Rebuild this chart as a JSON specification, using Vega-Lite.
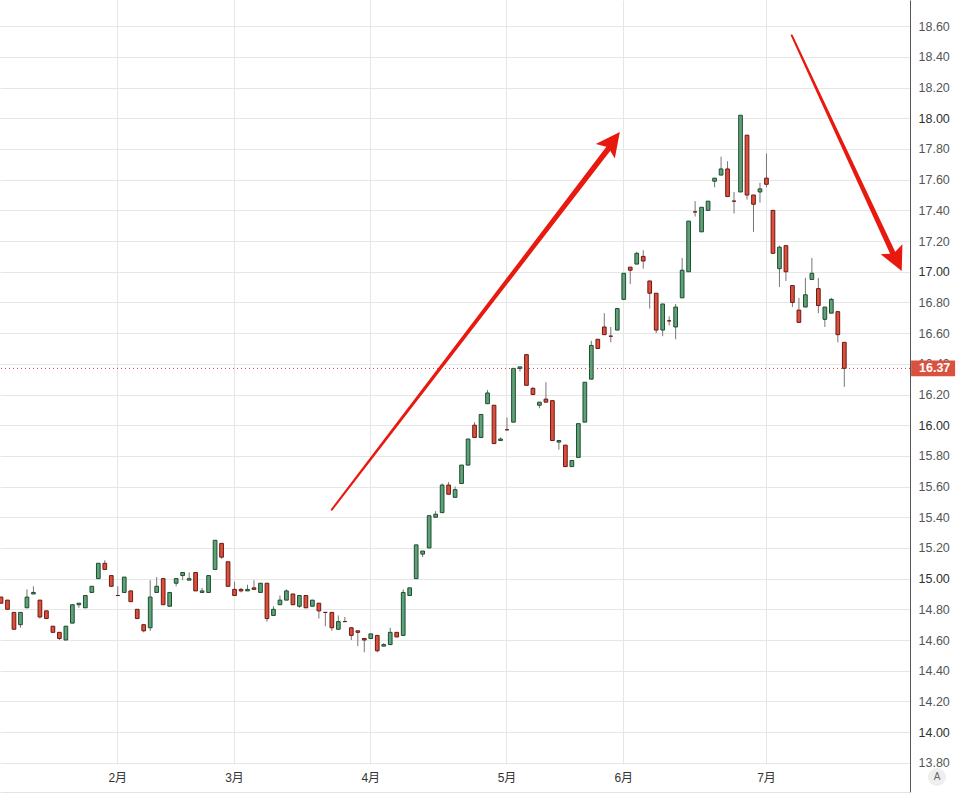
{
  "$schema": "https://vega.github.io/schema/vega-lite/v6.json",
  "width": 910,
  "height": 764,
  "autosize": {"type": "none"},
  "padding": {"left": 0, "top": 0, "right": 52, "bottom": 40},
  "background": "white",
  "config": {
    "view": {"stroke": null},
    "font": "Liberation Sans",
    "axis": {"labelFont": "Liberation Sans, Noto Sans CJK SC", "titleFont": "Liberation Sans"}
  },
  "datasets": {
    "candles": [
      {"date": "2026-01-06", "open": 14.88, "high": 14.88, "low": 14.84, "close": 14.84},
      {"date": "2026-01-07", "open": 14.86, "high": 14.86, "low": 14.80, "close": 14.80},
      {"date": "2026-01-08", "open": 14.78, "high": 14.78, "low": 14.67, "close": 14.67},
      {"date": "2026-01-09", "open": 14.70, "high": 14.78, "low": 14.68, "close": 14.78},
      {"date": "2026-01-12", "open": 14.81, "high": 14.93, "low": 14.81, "close": 14.88},
      {"date": "2026-01-13", "open": 14.90, "high": 14.95, "low": 14.90, "close": 14.91},
      {"date": "2026-01-14", "open": 14.86, "high": 14.86, "low": 14.74, "close": 14.75},
      {"date": "2026-01-15", "open": 14.79, "high": 14.79, "low": 14.74, "close": 14.74},
      {"date": "2026-01-16", "open": 14.69, "high": 14.69, "low": 14.65, "close": 14.65},
      {"date": "2026-01-20", "open": 14.65, "high": 14.65, "low": 14.60, "close": 14.61},
      {"date": "2026-01-21", "open": 14.60, "high": 14.69, "low": 14.60, "close": 14.69},
      {"date": "2026-01-22", "open": 14.71, "high": 14.83, "low": 14.71, "close": 14.83},
      {"date": "2026-01-23", "open": 14.83, "high": 14.84, "low": 14.81, "close": 14.84},
      {"date": "2026-01-26", "open": 14.81, "high": 14.89, "low": 14.81, "close": 14.89},
      {"date": "2026-01-27", "open": 14.91, "high": 14.95, "low": 14.91, "close": 14.95},
      {"date": "2026-01-28", "open": 15.00, "high": 15.10, "low": 15.00, "close": 15.10},
      {"date": "2026-01-29", "open": 15.10, "high": 15.12, "low": 15.06, "close": 15.06},
      {"date": "2026-01-30", "open": 15.02, "high": 15.02, "low": 14.95, "close": 14.95},
      {"date": "2026-02-02", "open": 14.89, "high": 14.95, "low": 14.89, "close": 14.89},
      {"date": "2026-02-03", "open": 14.91, "high": 15.01, "low": 14.91, "close": 15.01},
      {"date": "2026-02-04", "open": 14.92, "high": 14.92, "low": 14.85, "close": 14.85},
      {"date": "2026-02-05", "open": 14.80, "high": 14.80, "low": 14.74, "close": 14.74},
      {"date": "2026-02-06", "open": 14.70, "high": 14.70, "low": 14.65, "close": 14.66},
      {"date": "2026-02-09", "open": 14.68, "high": 14.99, "low": 14.66, "close": 14.88},
      {"date": "2026-02-10", "open": 14.91, "high": 15.01, "low": 14.91, "close": 14.95},
      {"date": "2026-02-11", "open": 15.00, "high": 15.00, "low": 14.83, "close": 14.83},
      {"date": "2026-02-12", "open": 14.82, "high": 14.91, "low": 14.82, "close": 14.91},
      {"date": "2026-02-13", "open": 14.97, "high": 15.00, "low": 14.95, "close": 15.00},
      {"date": "2026-02-18", "open": 15.02, "high": 15.04, "low": 14.99, "close": 15.04},
      {"date": "2026-02-19", "open": 14.99, "high": 15.04, "low": 14.99, "close": 15.00},
      {"date": "2026-02-20", "open": 15.04, "high": 15.04, "low": 14.92, "close": 14.92},
      {"date": "2026-02-23", "open": 14.91, "high": 14.94, "low": 14.91, "close": 14.92},
      {"date": "2026-02-24", "open": 14.91, "high": 15.02, "low": 14.91, "close": 15.02},
      {"date": "2026-02-25", "open": 15.06, "high": 15.25, "low": 15.06, "close": 15.25},
      {"date": "2026-02-26", "open": 15.23, "high": 15.23, "low": 15.13, "close": 15.14},
      {"date": "2026-02-27", "open": 15.11, "high": 15.11, "low": 14.95, "close": 14.95},
      {"date": "2026-03-02", "open": 14.93, "high": 14.98, "low": 14.89, "close": 14.89},
      {"date": "2026-03-03", "open": 14.93, "high": 14.94, "low": 14.91, "close": 14.92},
      {"date": "2026-03-04", "open": 14.92, "high": 14.96, "low": 14.92, "close": 14.93},
      {"date": "2026-03-05", "open": 14.94, "high": 14.99, "low": 14.93, "close": 14.93},
      {"date": "2026-03-06", "open": 14.91, "high": 14.97, "low": 14.91, "close": 14.97},
      {"date": "2026-03-09", "open": 14.97, "high": 14.97, "low": 14.72, "close": 14.74},
      {"date": "2026-03-10", "open": 14.76, "high": 14.82, "low": 14.76, "close": 14.80},
      {"date": "2026-03-11", "open": 14.83, "high": 14.89, "low": 14.83, "close": 14.86},
      {"date": "2026-03-12", "open": 14.86, "high": 14.93, "low": 14.86, "close": 14.92},
      {"date": "2026-03-13", "open": 14.90, "high": 14.90, "low": 14.83, "close": 14.83},
      {"date": "2026-03-16", "open": 14.82, "high": 14.89, "low": 14.81, "close": 14.89},
      {"date": "2026-03-17", "open": 14.89, "high": 14.89, "low": 14.81, "close": 14.81},
      {"date": "2026-03-18", "open": 14.82, "high": 14.86, "low": 14.82, "close": 14.86},
      {"date": "2026-03-19", "open": 14.84, "high": 14.84, "low": 14.74, "close": 14.79},
      {"date": "2026-03-20", "open": 14.78, "high": 14.78, "low": 14.69, "close": 14.78},
      {"date": "2026-03-23", "open": 14.78, "high": 14.78, "low": 14.66, "close": 14.68},
      {"date": "2026-03-24", "open": 14.67, "high": 14.76, "low": 14.67, "close": 14.72},
      {"date": "2026-03-25", "open": 14.72, "high": 14.75, "low": 14.72, "close": 14.72},
      {"date": "2026-03-26", "open": 14.68, "high": 14.68, "low": 14.60, "close": 14.63},
      {"date": "2026-03-27", "open": 14.66, "high": 14.66, "low": 14.56, "close": 14.65},
      {"date": "2026-03-30", "open": 14.61, "high": 14.61, "low": 14.52, "close": 14.60},
      {"date": "2026-04-01", "open": 14.61, "high": 14.64, "low": 14.61, "close": 14.64},
      {"date": "2026-04-02", "open": 14.63, "high": 14.63, "low": 14.52, "close": 14.53},
      {"date": "2026-04-06", "open": 14.56, "high": 14.58, "low": 14.56, "close": 14.57},
      {"date": "2026-04-07", "open": 14.57, "high": 14.68, "low": 14.57, "close": 14.65},
      {"date": "2026-04-08", "open": 14.65, "high": 14.65, "low": 14.62, "close": 14.62},
      {"date": "2026-04-09", "open": 14.63, "high": 14.93, "low": 14.63, "close": 14.91},
      {"date": "2026-04-10", "open": 14.89, "high": 14.94, "low": 14.89, "close": 14.94},
      {"date": "2026-04-13", "open": 15.00, "high": 15.22, "low": 15.00, "close": 15.22},
      {"date": "2026-04-14", "open": 15.16, "high": 15.18, "low": 15.14, "close": 15.18},
      {"date": "2026-04-15", "open": 15.20, "high": 15.41, "low": 15.20, "close": 15.41},
      {"date": "2026-04-16", "open": 15.40, "high": 15.44, "low": 15.40, "close": 15.42},
      {"date": "2026-04-17", "open": 15.43, "high": 15.62, "low": 15.43, "close": 15.61},
      {"date": "2026-04-20", "open": 15.61, "high": 15.63, "low": 15.55, "close": 15.55},
      {"date": "2026-04-21", "open": 15.53, "high": 15.60, "low": 15.53, "close": 15.58},
      {"date": "2026-04-22", "open": 15.62, "high": 15.74, "low": 15.62, "close": 15.74},
      {"date": "2026-04-23", "open": 15.74, "high": 15.91, "low": 15.74, "close": 15.91},
      {"date": "2026-04-24", "open": 16.00, "high": 16.02, "low": 15.92, "close": 15.92},
      {"date": "2026-04-27", "open": 15.92, "high": 16.07, "low": 15.92, "close": 16.07},
      {"date": "2026-04-28", "open": 16.14, "high": 16.23, "low": 16.14, "close": 16.21},
      {"date": "2026-04-29", "open": 16.13, "high": 16.13, "low": 15.88, "close": 15.88},
      {"date": "2026-04-30", "open": 15.90, "high": 15.92, "low": 15.90, "close": 15.91},
      {"date": "2026-05-06", "open": 15.97, "high": 16.05, "low": 15.97, "close": 15.97},
      {"date": "2026-05-07", "open": 16.02, "high": 16.37, "low": 16.02, "close": 16.37},
      {"date": "2026-05-08", "open": 16.37, "high": 16.38, "low": 16.35, "close": 16.38},
      {"date": "2026-05-11", "open": 16.46, "high": 16.46, "low": 16.26, "close": 16.26},
      {"date": "2026-05-12", "open": 16.24, "high": 16.25, "low": 16.20, "close": 16.20},
      {"date": "2026-05-13", "open": 16.13, "high": 16.15, "low": 16.11, "close": 16.15},
      {"date": "2026-05-14", "open": 16.17, "high": 16.28, "low": 16.15, "close": 16.15},
      {"date": "2026-05-15", "open": 16.16, "high": 16.16, "low": 15.90, "close": 15.90},
      {"date": "2026-05-18", "open": 15.89, "high": 15.90, "low": 15.84, "close": 15.90},
      {"date": "2026-05-19", "open": 15.87, "high": 15.87, "low": 15.73, "close": 15.73},
      {"date": "2026-05-20", "open": 15.73, "high": 15.77, "low": 15.73, "close": 15.77},
      {"date": "2026-05-21", "open": 15.79, "high": 16.01, "low": 15.79, "close": 16.01},
      {"date": "2026-05-22", "open": 16.02, "high": 16.28, "low": 16.02, "close": 16.28},
      {"date": "2026-05-25", "open": 16.30, "high": 16.55, "low": 16.30, "close": 16.52},
      {"date": "2026-05-26", "open": 16.56, "high": 16.56, "low": 16.50, "close": 16.50},
      {"date": "2026-05-27", "open": 16.64, "high": 16.73, "low": 16.59, "close": 16.59},
      {"date": "2026-05-28", "open": 16.58, "high": 16.64, "low": 16.54, "close": 16.58},
      {"date": "2026-05-29", "open": 16.62, "high": 16.76, "low": 16.62, "close": 16.76},
      {"date": "2026-06-01", "open": 16.82, "high": 16.99, "low": 16.82, "close": 16.99},
      {"date": "2026-06-02", "open": 17.03, "high": 17.03, "low": 16.92, "close": 17.01},
      {"date": "2026-06-03", "open": 17.05, "high": 17.13, "low": 17.05, "close": 17.12},
      {"date": "2026-06-04", "open": 17.10, "high": 17.14, "low": 17.02, "close": 17.07},
      {"date": "2026-06-05", "open": 16.94, "high": 16.94, "low": 16.76, "close": 16.86},
      {"date": "2026-06-08", "open": 16.86, "high": 16.86, "low": 16.60, "close": 16.62},
      {"date": "2026-06-09", "open": 16.62, "high": 16.79, "low": 16.58, "close": 16.79},
      {"date": "2026-06-10", "open": 16.68, "high": 16.71, "low": 16.65, "close": 16.68},
      {"date": "2026-06-11", "open": 16.64, "high": 16.79, "low": 16.56, "close": 16.77},
      {"date": "2026-06-12", "open": 16.83, "high": 17.09, "low": 16.83, "close": 17.01},
      {"date": "2026-06-15", "open": 17.00, "high": 17.33, "low": 17.00, "close": 17.33},
      {"date": "2026-06-16", "open": 17.39, "high": 17.46, "low": 17.36, "close": 17.39},
      {"date": "2026-06-17", "open": 17.26, "high": 17.42, "low": 17.26, "close": 17.42},
      {"date": "2026-06-18", "open": 17.40, "high": 17.46, "low": 17.40, "close": 17.46},
      {"date": "2026-06-19", "open": 17.59, "high": 17.61, "low": 17.55, "close": 17.61},
      {"date": "2026-06-22", "open": 17.63, "high": 17.75, "low": 17.63, "close": 17.67},
      {"date": "2026-06-23", "open": 17.67, "high": 17.72, "low": 17.49, "close": 17.49},
      {"date": "2026-06-24", "open": 17.46, "high": 17.52, "low": 17.38, "close": 17.46},
      {"date": "2026-06-25", "open": 17.52, "high": 18.02, "low": 17.52, "close": 18.02},
      {"date": "2026-06-26", "open": 17.89, "high": 17.89, "low": 17.47, "close": 17.50},
      {"date": "2026-06-29", "open": 17.50, "high": 17.50, "low": 17.26, "close": 17.44},
      {"date": "2026-06-30", "open": 17.52, "high": 17.58, "low": 17.45, "close": 17.54},
      {"date": "2026-07-01", "open": 17.61, "high": 17.77, "low": 17.55, "close": 17.57},
      {"date": "2026-07-02", "open": 17.40, "high": 17.40, "low": 17.12, "close": 17.12},
      {"date": "2026-07-03", "open": 17.02, "high": 17.17, "low": 16.90, "close": 17.16},
      {"date": "2026-07-06", "open": 17.17, "high": 17.17, "low": 16.94, "close": 17.00},
      {"date": "2026-07-07", "open": 16.91, "high": 16.91, "low": 16.77, "close": 16.80},
      {"date": "2026-07-08", "open": 16.75, "high": 16.83, "low": 16.67, "close": 16.67},
      {"date": "2026-07-09", "open": 16.77, "high": 16.96, "low": 16.77, "close": 16.85},
      {"date": "2026-07-10", "open": 16.95, "high": 17.09, "low": 16.95, "close": 16.99},
      {"date": "2026-07-13", "open": 16.89, "high": 16.96, "low": 16.73, "close": 16.78},
      {"date": "2026-07-14", "open": 16.69, "high": 16.77, "low": 16.64, "close": 16.77},
      {"date": "2026-07-15", "open": 16.73, "high": 16.83, "low": 16.73, "close": 16.82},
      {"date": "2026-07-16", "open": 16.74, "high": 16.74, "low": 16.54, "close": 16.59},
      {"date": "2026-07-17", "open": 16.54, "high": 16.54, "low": 16.25, "close": 16.37}
    ],
    "arrows": [
      {"arrow": "rise", "part": "tail", "day": 51.0, "price": 15.45},
      {"arrow": "rise", "part": "neck", "day": 93.6, "price": 17.80},
      {"arrow": "rise", "part": "tip", "day": 95.4, "price": 17.91},
      {"arrow": "fall", "part": "tail", "day": 121.9, "price": 18.54},
      {"arrow": "fall", "part": "neck", "day": 137.5, "price": 17.12},
      {"arrow": "fall", "part": "tip", "day": 138.85, "price": 17.005}
    ]
  },
  "layer": [
    {
      "data": {"name": "arrows"},
      "encoding": {
        "x": {
          "field": "day",
          "type": "quantitative",
          "scale": {"domain": [-0.154, 140.13], "nice": false, "zero": false},
          "axis": {
            "orient": "bottom",
            "offset": 28,
            "values": [140.13],
            "labels": false,
            "grid": false,
            "ticks": true,
            "tickSize": -28,
            "tickColor": "#555555",
            "tickWidth": 1,
            "domain": true,
            "domainColor": "#e3e3e3",
            "title": null
          }
        },
        "y": {
          "field": "price",
          "type": "quantitative",
          "scale": {"domain": [13.792, 18.771], "nice": false, "zero": false},
          "title": null,
          "axis": {
            "orient": "right",
            "values": [13.8, 14, 14.2, 14.4, 14.6, 14.8, 15, 15.2, 15.4, 15.6, 15.8, 16, 16.2, 16.4, 16.6, 16.8, 17, 17.2, 17.4, 17.6, 17.8, 18, 18.2, 18.4, 18.6],
            "tickCount": 40,
            "format": ".2f",
            "labelAlign": "left",
            "labelBaseline": "middle",
            "labelPadding": 8,
            "labelFontSize": 12.5,
            "labelColor": {"condition": {"test": "datum.value % 1 === 0", "value": "#2f2f2f"}, "value": "#555555"},
            "labelOverlap": false,
            "labelFlush": false,
            "ticks": false,
            "tickSize": 0,
            "domain": true,
            "domainColor": "#555555",
            "domainWidth": 1,
            "grid": true,
            "gridColor": "#e6e6e6",
            "title": null
          }
        }
      },
      "layer": [
        {
          "transform": [{"filter": "datum.part !== 'tip'"}],
          "mark": {"type": "trail", "color": "#e8190f"},
          "encoding": {
            "detail": {"field": "arrow"},
            "size": {"field": "part", "type": "ordinal", "scale": {"domain": ["tail", "neck"], "range": [2, 5.5]}, "legend": null}
          }
        },
        {
          "transform": [{"filter": "datum.part === 'tip' && datum.arrow === 'rise'"}],
          "mark": {"type": "point", "shape": "M0,0L0.5,1L0,0.8L-0.5,1Z", "angle": 37.4, "size": 2304, "filled": true, "color": "#e8190f", "opacity": 1, "strokeWidth": 0}
        },
        {
          "transform": [{"filter": "datum.part === 'tip' && datum.arrow === 'fall'"}],
          "mark": {"type": "point", "shape": "M0,0L0.5,1L0,0.8L-0.5,1Z", "angle": 155, "size": 2304, "filled": true, "color": "#e8190f", "opacity": 1, "strokeWidth": 0}
        }
      ]
    },
    {
      "data": {"name": "candles"},
      "encoding": {
        "x": {
          "field": "date",
          "type": "ordinal",
          "scale": {"range": [-2.24, 847.56], "paddingInner": 0, "paddingOuter": 0},
          "axis": {
            "orient": "bottom",
            "values": ["2026-02-02", "2026-03-02", "2026-04-01", "2026-05-06", "2026-06-01", "2026-07-01"],
            "labelExpr": "toNumber(substring(datum.value, 5, 7)) + '月'",
            "labelAngle": 0,
            "labelPadding": 8,
            "labelFontSize": 12,
            "labelColor": "#333333",
            "domain": false,
            "ticks": false,
            "grid": true,
            "gridColor": "#e6e6e6",
            "bandPosition": 0.5,
            "title": null
          }
        }
      },
      "layer": [
        {
          "mark": {"type": "rule", "color": "#777777", "strokeWidth": 1},
          "encoding": {
            "y": {"field": "low", "type": "quantitative", "scale": {"domain": [13.792, 18.771], "nice": false, "zero": false}, "title": null},
            "y2": {"field": "high"}
          }
        },
        {
          "mark": {"type": "bar", "width": {"band": 0.57}, "strokeWidth": 1},
          "encoding": {
            "y": {"field": "open", "type": "quantitative", "scale": {"domain": [13.792, 18.771], "nice": false, "zero": false}, "title": null},
            "y2": {"field": "close"},
            "fill": {"condition": {"test": "datum.close > datum.open", "value": "#5fa178"}, "value": "#dc4f3c"},
            "stroke": {"condition": {"test": "datum.close > datum.open", "value": "#1d4d2e"}, "value": "#6b1a14"}
          }
        }
      ]
    },
    {
      "data": {"name": "candles"},
      "transform": [{"filter": "datum.date === '2026-07-17'"}],
      "encoding": {
        "y": {"field": "close", "type": "quantitative", "scale": {"domain": [13.792, 18.771], "nice": false, "zero": false}, "title": null}
      },
      "layer": [
        {"mark": {"type": "rule", "color": "#b8473a", "strokeWidth": 1, "strokeDash": [1, 3]}},
        {
          "mark": {"type": "point", "shape": "M0.05,-0.36H2.05V0.36H0.05Z", "size": 1936, "filled": true, "color": "#d9523f", "opacity": 1, "strokeWidth": 0},
          "encoding": {"x": {"value": "width"}}
        },
        {
          "mark": {"type": "text", "align": "left", "baseline": "middle", "dx": 9, "color": "white", "fontWeight": "bold", "fontSize": 12.5},
          "encoding": {"x": {"value": "width"}, "text": {"field": "close", "format": ".2f"}}
        }
      ]
    },
    {
      "mark": {"type": "rule", "color": "#555555", "strokeWidth": 1.5},
      "encoding": {"y": {"datum": 13.792, "type": "quantitative", "scale": {"domain": [13.792, 18.771], "nice": false, "zero": false}, "title": null}}
    },
    {
      "data": {"values": [{"label": "A"}]},
      "layer": [
        {
          "mark": {"type": "point", "shape": "circle", "size": 324, "filled": true, "color": "#efefef", "opacity": 1, "xOffset": 27, "yOffset": 13},
          "encoding": {"x": {"value": "width"}, "y": {"value": "height"}}
        },
        {
          "mark": {"type": "text", "align": "center", "baseline": "middle", "dx": 27, "dy": 13, "fontSize": 10, "color": "#666666"},
          "encoding": {"x": {"value": "width"}, "y": {"value": "height"}, "text": {"field": "label"}}
        }
      ]
    }
  ],
  "resolve": {"scale": {"x": "independent"}}
}
